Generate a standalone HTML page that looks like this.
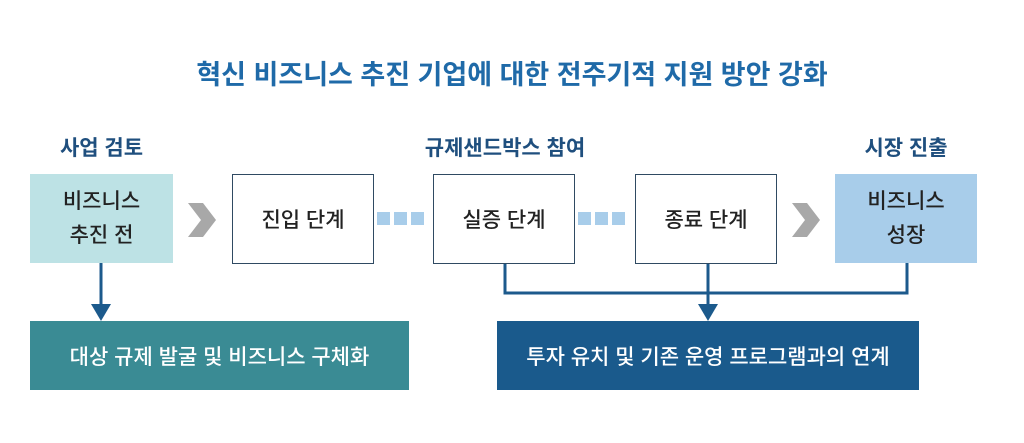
<!DOCTYPE html>
<html><head><meta charset="utf-8"><style>
body{margin:0;width:1024px;height:443px;background:#fff;position:relative;overflow:hidden;font-family:"Liberation Sans","Noto Sans CJK KR",sans-serif}
.a{position:absolute;box-sizing:border-box;display:flex;align-items:center;justify-content:center;text-align:center}
.t{color:#1f4f7e;font-size:21px;font-weight:bold}
.b{border:1.5px solid #2f4a62;background:#fff;color:#222;font-size:21px;font-weight:500;top:174px;height:90px;width:142px}
</style></head><body>
<div class="a" style="left:0;width:1024px;top:52px;height:40px;color:#1f6aa8;font-size:27px;font-weight:bold">혁신 비즈니스 추진 기업에 대한 전주기적 지원 방안 강화</div>
<div class="a t" style="left:30px;width:143px;top:132px;height:30px">사업 검토</div>
<div class="a t" style="left:404px;width:202px;top:132px;height:30px">규제샌드박스 참여</div>
<div class="a t" style="left:835px;width:142px;top:132px;height:30px">시장 진출</div>
<div class="a" style="left:30px;top:174px;width:143px;height:89px;background:#bde2e5;color:#222;font-size:21px;font-weight:500;line-height:34px">비즈니스<br>추진 전</div>
<div class="a b" style="left:232px">진입 단계</div>
<div class="a b" style="left:433px">실증 단계</div>
<div class="a b" style="left:635px">종료 단계</div>
<div class="a" style="left:835px;top:174px;width:142px;height:89px;background:#a8cdea;color:#222;font-size:21px;font-weight:500;line-height:34px">비즈니스<br>성장</div>
<div class="a" style="left:30px;top:321px;width:379px;height:69px;background:#3a8b94;color:#fff;font-size:21px;font-weight:500">대상 규제 발굴 및 비즈니스 구체화</div>
<div class="a" style="left:497px;top:321px;width:422px;height:69px;background:#1a5a8c;color:#fff;font-size:21px;font-weight:500">투자 유치 및 기존 운영 프로그램과의 연계</div>
<svg class="a" style="left:0;top:0" width="1024" height="443">
<g fill="#a8a8a8"><polygon points="188,203 203,203 216,220 203,237 188,237 201,220"/><polygon points="792,203 807,203 820,220 807,237 792,237 805,220"/></g>
<g fill="#a8cdea"><rect x="377" y="212" width="13" height="13"/><rect x="394" y="212" width="13" height="13"/><rect x="411" y="212" width="13" height="13"/>
<rect x="578" y="212" width="13" height="13"/><rect x="595" y="212" width="13" height="13"/><rect x="612" y="212" width="13" height="13"/></g>
<g stroke="#1c5a8c" stroke-width="3" fill="none"><line x1="101" y1="263" x2="101" y2="306"/><polyline points="505,264 505,293 907,293 907,263"/><line x1="708" y1="264" x2="708" y2="306"/></g>
<g fill="#1c5a8c"><polygon points="91,304 111,304 101,321"/><polygon points="698,304 718,304 708,321"/></g>
</svg>
</body></html>
